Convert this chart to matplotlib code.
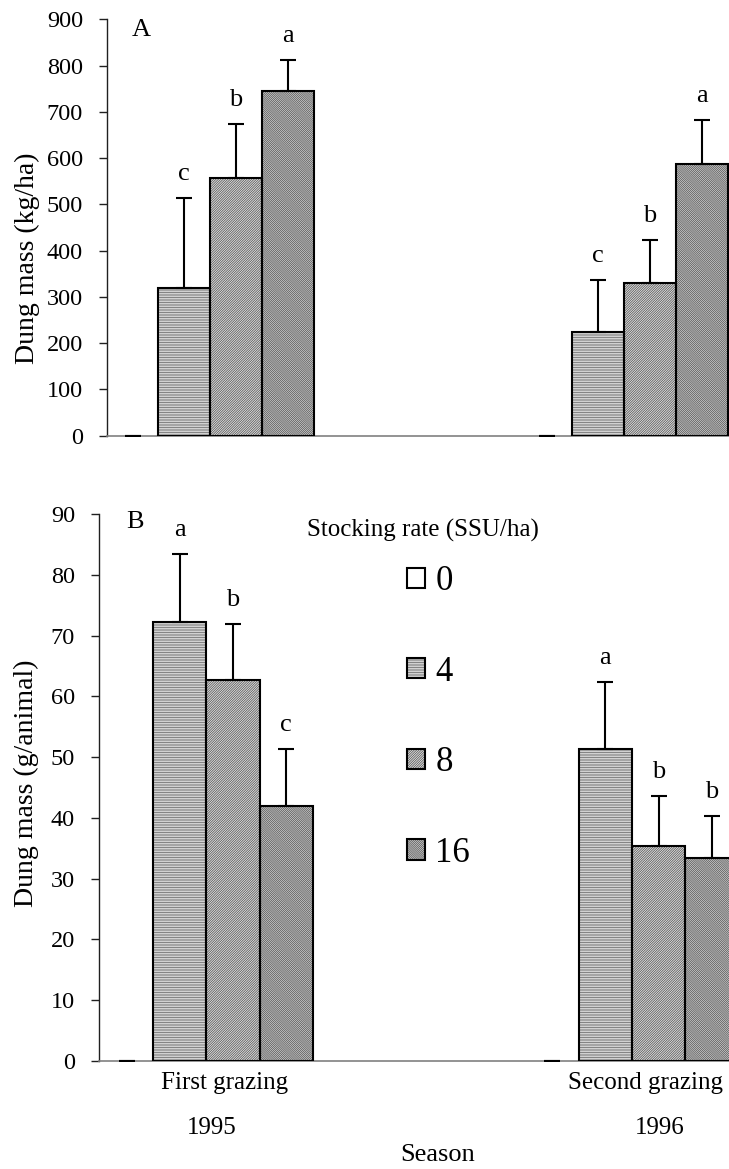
import numpy as np
import matplotlib
matplotlib.use("Agg")
import matplotlib.pyplot as plt
from matplotlib.patches import Patch

plt.rcParams['font.family'] = ['Liberation Serif', 'DejaVu Serif']
plt.rcParams['hatch.linewidth'] = 0.6

# data
rates = ["0", "4", "8", "16"]
seasons = ["First grazing", "Second grazing"]
years = ["1995", "1996"]

# panel A: dung mass (kg/ha), rows = stocking rate, cols = season
mass_ha = [[0, 0], [320, 225], [557, 329], [744, 588]]
mass_ha_err = [[0, 0], [193, 111], [117, 94], [67, 94]]
letters_ha = [["", ""], ["c", "c"], ["b", "b"], ["a", "a"]]

# panel B: dung mass (g/animal)
mass_an = [[0, 0], [72.2, 51.3], [62.7, 35.4], [42.0, 33.4]]
mass_an_err = [[0, 0], [11.2, 11.1], [9.2, 8.2], [9.3, 6.9]]
letters_an = [["", ""], ["a", "a"], ["b", "b"], ["c", "b"]]

faces = ["white", "#f2f2f2", "#e6e6e6", "#dedede"]
hatches = [None, "-" * 10, "/" * 14, "\\" * 16]
hatch_cols = ["black", "#707070", "#5c5c5c", "#5c5c5c"]

FS = 17.5
W = 0.125
groups = np.arange(len(seasons))

fig = plt.figure(figsize=(7.29, 11.69), dpi=100)
axA = fig.add_axes([0.1464, 0.6273, 0.8536, 0.3562])
axB = fig.add_axes([0.1354, 0.0926, 0.8646, 0.4677])


def draw_panel(ax, vals, errs, letters):
    for i in range(len(rates)):
        x = groups + (i - 1.5) * W
        v = np.array(vals[i], dtype=float)
        e = np.array(errs[i], dtype=float)
        if i > 0:
            ax.bar(x, v, W, color=faces[i], edgecolor=hatch_cols[i],
                   hatch=hatches[i], linewidth=0, zorder=2)
            ax.bar(x, v, W, fill=False, edgecolor="black", linewidth=1.5, zorder=3)
        ax.errorbar(x, v, yerr=[np.zeros_like(e), e], fmt="none", ecolor="black",
                    elinewidth=1.5, capsize=5.5, capthick=1.5, zorder=4)
        for xi, vi, ei, lab in zip(x, v, e, letters[i]):
            if lab:
                ax.annotate(lab, (xi, vi + ei), xytext=(0, 13), textcoords="offset points",
                            ha="center", va="baseline", fontsize=19)
    for s in ["top", "right"]:
        ax.spines[s].set_visible(False)
    ax.spines["left"].set_color("#202020")
    ax.spines["left"].set_linewidth(1.0)
    ax.spines["bottom"].set_color("#808080")
    ax.spines["bottom"].set_linewidth(1.2)
    ax.set_xticks([])
    ax.tick_params(axis="y", direction="out", length=6, width=1.0, pad=11,
                   labelsize=FS, color="#202020")


# panel A
draw_panel(axA, mass_ha, mass_ha_err, letters_ha)
axA.set_xlim(-0.2498, 1.2533)
axA.set_ylim(0, 900)
axA.set_yticks(np.arange(0, 901, 100))
axA.set_ylabel("Dung mass (kg/ha)", fontsize=20)
axA.yaxis.set_label_coords(-0.108, 0.427)
axA.text(0.056, 0.975, "A", transform=axA.transAxes, ha="center", va="center", fontsize=19)

# panel B
draw_panel(axB, mass_an, mass_an_err, letters_an)
axB.set_xlim(-0.2528, 1.228)
axB.set_ylim(0, 90)
axB.set_yticks(np.arange(0, 91, 10))
axB.set_ylabel("Dung mass (g/animal)", fontsize=20)
axB.yaxis.set_label_coords(-0.094, 0.508)
axB.text(0.058, 0.985, "B", transform=axB.transAxes, ha="center", va="center", fontsize=19)

tr = axB.get_xaxis_transform()
for xs, lab in zip([0.044, 1.031], seasons):
    axB.text(xs, -0.041, lab, transform=tr, ha="center", va="center", fontsize=18)
for xs, lab in zip([0.013, 1.066], years):
    axB.text(xs, -0.123, lab, transform=tr, ha="center", va="center", fontsize=18)
axB.text(0.537, -0.172, "Season", transform=axB.transAxes, ha="center", va="center", fontsize=19)

# legend
axB.text(0.5145, 0.9707, "Stocking rate (SSU/ha)", transform=axB.transAxes,
         ha="center", va="center", fontsize=18)
handles = []
for i in range(len(rates)):
    fill = Patch(facecolor=faces[i], edgecolor=hatch_cols[i], hatch=hatches[i], linewidth=0)
    outline = Patch(fill=False, edgecolor="black", linewidth=1.5)
    handles.append((fill, outline))
leg = axB.legend(handles, rates, loc="upper left", bbox_to_anchor=(407 / 729, 1 - 565 / 1169),
                 bbox_transform=fig.transFigure, frameon=False, fontsize=25,
                 borderpad=0, borderaxespad=0, handlelength=0.52, handleheight=0.52,
                 handletextpad=0.3, labelspacing=1.66)

fig.savefig("out.png", dpi=100)
